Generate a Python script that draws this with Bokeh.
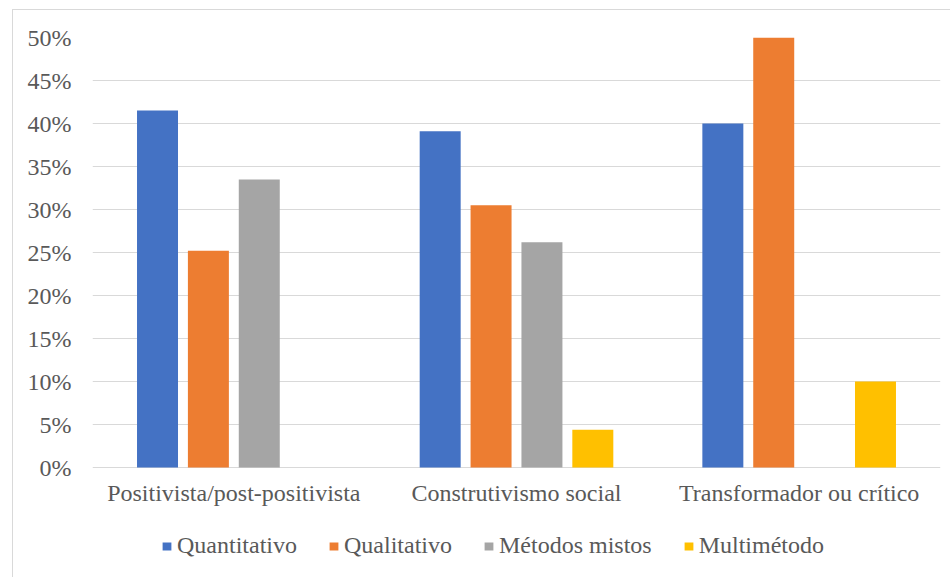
from bokeh.plotting import figure
from bokeh.models import (ColumnDataSource, FactorRange, Range1d, FixedTicker,
                          NumeralTickFormatter, Legend, LegendItem)
from bokeh.core.properties import value
from bokeh.transform import dodge
from bokeh.embed import file_html
from bokeh.resources import INLINE

# Paradigm categories and share of each research method
categories = ["Positivista/post-positivista", "Construtivismo social", "Transformador ou crítico"]
series_names = ["Quantitativo", "Qualitativo", "Métodos mistos", "Multimétodo"]
quantitativo = [0.415, 0.391, 0.400]
qualitativo = [0.252, 0.305, 0.500]
metodos_mistos = [0.335, 0.262, 0.0]
multimetodo = [0.0, 0.044, 0.100]
y_ticks = [0.0, 0.05, 0.10, 0.15, 0.20, 0.25, 0.30, 0.35, 0.40, 0.45, 0.50]

colors = ["#4472C4", "#ED7D31", "#A5A5A5", "#FFC000"]
offsets = [-0.27, -0.09, 0.09, 0.27]
keys = ["quant", "qual", "mist", "multi"]

source = ColumnDataSource(data=dict(
    cat=categories, quant=quantitativo, qual=qualitativo,
    mist=metodos_mistos, multi=multimetodo,
))

FONT = "Liberation Serif"
TEXT_COLOR = "#595959"
GRID = "#d9d9d9"

# 430 px of frame per 50 %; frame runs from the 50 % line down past the
# legend row, so the lower part of the y range is empty space for labels.
p = figure(
    x_range=FactorRange(*categories, range_padding=0),
    y_range=Range1d(-0.12674, 0.5),
    width=938, height=568,
    output_backend="svg", toolbar_location=None,
    min_border_left=79, min_border_right=11,
    min_border_top=27, min_border_bottom=2,
)
p.styles = {
    "margin-left": "12px", "margin-top": "9px",
    "border-top": f"1px solid {GRID}", "border-left": f"1px solid {GRID}",
}

renderers = []
for key, off, col in zip(keys, offsets, colors):
    r = p.vbar(x=dodge("cat", off, range=p.x_range), top=key, width=0.145,
               source=source, fill_color=col, line_color=None)
    renderers.append(r)

# category labels under the 0 % line
p.text(x="cat", y=0, text="cat", source=source, y_offset=12,
       text_align="center", text_baseline="top",
       text_font=value(FONT), text_font_size="24px", text_color=TEXT_COLOR)

p.outline_line_color = None
p.background_fill_color = "white"
p.border_fill_color = "white"

p.xaxis.visible = False
p.xgrid.grid_line_color = None
p.ygrid.grid_line_color = GRID
p.ygrid.grid_line_width = 1

p.yaxis.ticker = FixedTicker(ticks=y_ticks)
p.yaxis.formatter = NumeralTickFormatter(format="0%")
ax = p.yaxis[0]
ax.axis_line_color = None
ax.major_tick_line_color = None
ax.minor_tick_line_color = None
ax.major_label_text_font = FONT
ax.major_label_text_font_size = "24px"
ax.major_label_text_color = TEXT_COLOR
ax.major_label_standoff = 15

legend = Legend(
    items=[LegendItem(label=n, renderers=[r]) for n, r in zip(series_names, renderers)],
    orientation="horizontal",
    location=(69, 17),
    glyph_width=11, glyph_height=10,
    label_standoff=5, spacing=31,
    padding=0, margin=0,
    border_line_color=None, background_fill_alpha=0,
    label_text_font=FONT, label_text_font_size="24px",
    label_text_color=TEXT_COLOR,
)
p.add_layout(legend, "center")

open("out.html", "w").write(file_html(p, INLINE))
